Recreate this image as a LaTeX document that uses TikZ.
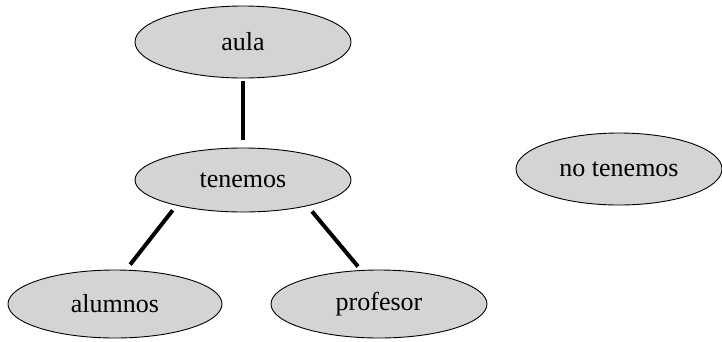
\documentclass[tikz,border=0pt]{standalone}
\usepackage{fontspec}
\setmainfont{Liberation Serif}
\usetikzlibrary{shapes.geometric}
\begin{document}
\begin{tikzpicture}[x=1pt,y=-1pt,
    word/.style={ellipse, draw, line width=0.9pt, fill=black!17,
      inner sep=0pt, minimum width=216pt, minimum height=68pt,
      font=\fontsize{26}{30}\selectfont},
    link/.style={line width=4pt}]
     \useasboundingbox (0,0) rectangle (722,341);
     \path (243,42) node[word, minimum height=72pt] (aula) {aula};
     \path (243,180) node[word, minimum height=64pt] (tenemos) {tenemos};
     \path (115,304) node[word, minimum width=214pt] (alumnos) {alumnos};
     \path (379,304) node[word] (profesor) {profesor};
     \path (619,169) node[word, minimum width=206pt, minimum height=72pt] (notenemos) {no tenemos};
     \draw[link, shorten <=3pt, shorten >=8pt] (aula) -- (tenemos);
     \draw[link, shorten <=6pt, shorten >=6.6pt] (tenemos.201) -- (alumnos.72);
     \draw[link, shorten <=7pt, shorten >=4.6pt] (tenemos.338) -- (profesor.118);
\end{tikzpicture}
\end{document}
